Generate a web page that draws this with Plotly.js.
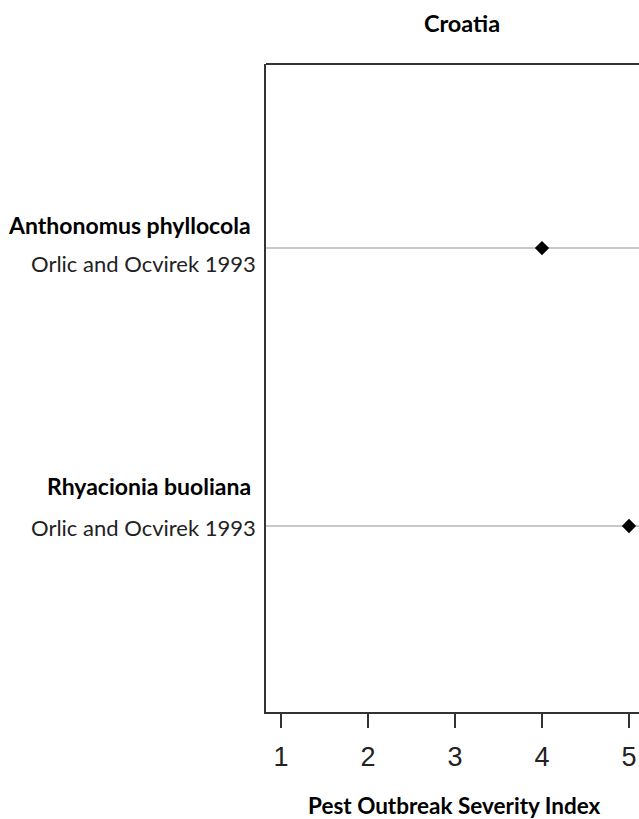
<!DOCTYPE html>
<html>
<head>
<meta charset="utf-8">
<script src="https://cdn.plot.ly/plotly-3.0.1.min.js"></script>
<style>
  html, body { margin: 0; padding: 0; background: #fff; }
  #chart { width: 639px; height: 819px; }
</style>
</head>
<body>
<div id="chart"></div>
<script>
// Pest outbreak severity records for Croatia
const species = ["Rhyacionia buoliana", "Anthonomus phyllocola"];
const references = ["Orlic and Ocvirek 1993", "Orlic and Ocvirek 1993"];
const severity = [5, 4];
const xTicks = [1, 2, 3, 4, 5];

const labelFont = "Lato, 'Open Sans', sans-serif";

const trace = {
  type: "scatter",
  mode: "markers",
  x: severity,
  y: species,
  marker: { symbol: "diamond", size: 11, color: "#000" },
  cliponaxis: false,
  hoverinfo: "x+y"
};

// Species name (bold) and its reference, placed beside each row
const annotations = [];
species.forEach((s, i) => {
  const above = i === 1;
  annotations.push({
    xref: "paper", yref: "y", x: 0, y: s,
    xanchor: "right", yanchor: "middle",
    xshift: -13, yshift: above ? 23 : 40,
    text: "<b>" + s + "</b>", showarrow: false,
    font: { family: labelFont, size: 23, color: "#000" }
  });
  annotations.push({
    xref: "paper", yref: "y", x: 0, y: s,
    xanchor: "right", yanchor: "middle",
    xshift: -8, yshift: above ? -15 : -1,
    text: references[i], showarrow: false,
    font: { family: labelFont, size: 22, color: "#222" }
  });
});

annotations.push({
  xref: "x", yref: "paper", x: 3, y: 0,
  xanchor: "center", yanchor: "middle", yshift: -93,
  text: "<b>Pest Outbreak Severity Index</b>", showarrow: false,
  font: { family: labelFont, size: 22.5, color: "#000" }
});

const layout = {
  width: 639,
  height: 819,
  margin: { l: 266, r: 0, t: 64, b: 107 },
  paper_bgcolor: "#fff",
  plot_bgcolor: "#fff",
  showlegend: false,
  title: {
    text: "<b>Croatia</b>",
    xref: "container", yref: "container",
    x: 462 / 639, y: 1 - 24 / 819,
    xanchor: "center", yanchor: "middle",
    font: { family: labelFont, size: 23.5, color: "#000" }
  },
  xaxis: {
    range: [0.828, 5.115],
    tickvals: xTicks,
    ticktext: xTicks.map(String),
    ticks: "outside", ticklen: 14, tickwidth: 2, tickcolor: "#333",
    ticklabelstandoff: 6,
    showline: true, linecolor: "#333", linewidth: 2,
    showgrid: false, zeroline: false,
    tickfont: { family: "Arial, 'Liberation Sans', sans-serif", size: 27, color: "#222" }
  },
  yaxis: {
    type: "category",
    categoryorder: "array",
    categoryarray: species,
    range: [-0.669, 1.662],
    showticklabels: false,
    ticks: "",
    showline: true, linecolor: "#333", linewidth: 2,
    showgrid: true, gridcolor: "#c8c8c8", gridwidth: 2,
    zeroline: false
  },
  shapes: [{
    type: "line", xref: "paper", yref: "paper",
    x0: 0, x1: 1, y0: 1, y1: 1,
    line: { color: "#333", width: 2 }
  }],
  annotations: annotations
};

Plotly.newPlot("chart", [trace], layout, { staticPlot: true, displayModeBar: false });
</script>
</body>
</html>
